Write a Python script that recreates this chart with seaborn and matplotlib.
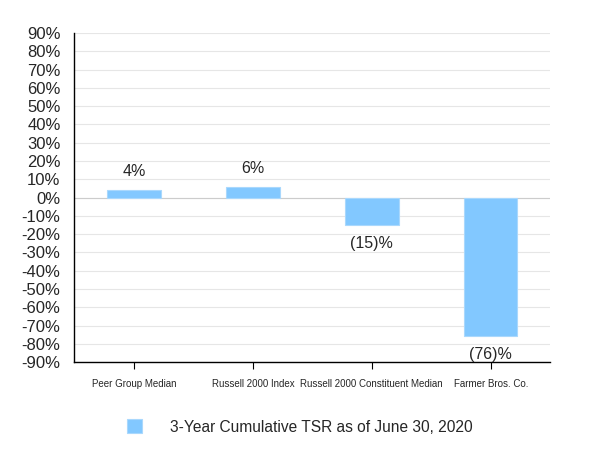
import matplotlib
matplotlib.use('Agg')
import matplotlib.pyplot as plt
import seaborn as sns
import pandas as pd
from matplotlib.ticker import FuncFormatter

categories = ['Peer Group Median', 'Russell 2000 Index', 'Russell 2000 Constituent Median', 'Farmer Bros. Co.']
tsr = [4, 6, -15, -76]
value_labels = ['4%', '6%', '(15)%', '(76)%']
series_name = '3-Year Cumulative TSR as of June 30, 2020'

df = pd.DataFrame({'company': categories, 'tsr': tsr})

sns.set_style('white')
plt.rcParams['font.family'] = ['Liberation Sans', 'DejaVu Sans']

fig = plt.figure(figsize=(6, 4.66), dpi=100)
ax = fig.add_axes([0.124, 0.223, 0.793, 0.706])

bar_color = '#82C8FF'
sns.barplot(data=df, x='company', y='tsr', color=bar_color, saturation=1, width=0.45,
            edgecolor='#A9D8FD', linewidth=0.8, label=series_name, ax=ax, zorder=3)

ax.set_ylim(-90, 90)
ax.set_xlim(-0.5, 3.5)
ax.set_yticks(range(-90, 91, 10))
ax.yaxis.set_major_formatter(FuncFormatter(lambda v, p: f'{int(v)}%'))
ax.grid(axis='y', color='#E6E6E6', linewidth=0.8, zorder=0)
ax.axhline(0, color='#CCCCCC', linewidth=0.8, zorder=1)

for s in ['top', 'right']:
    ax.spines[s].set_visible(False)
for s in ['left', 'bottom']:
    ax.spines[s].set_color('black')
    ax.spines[s].set_linewidth(1.0)

ax.tick_params(axis='y', labelsize=12, length=0, pad=10)
ax.tick_params(axis='x', labelsize=7, length=5, width=0.8, color='black', direction='out', pad=7, bottom=True)
ax.set_xlabel('')
ax.set_ylabel('')

for i, (v, lab) in enumerate(zip(tsr, value_labels)):
    if v >= 0:
        ax.text(i, v + 6, lab, ha='center', va='bottom', fontsize=11.5)
    else:
        ax.text(i, v - 6, lab, ha='center', va='top', fontsize=11.5)

if ax.legend_:
    ax.legend_.remove()
handles, labels = ax.get_legend_handles_labels()
fig.legend(handles[:1], labels[:1], loc='center', bbox_to_anchor=(0.5, 0.084),
           frameon=False, fontsize=11.2, handlelength=1.0, handleheight=1.0, handletextpad=1.8)

fig.savefig('out.png', dpi=100)
